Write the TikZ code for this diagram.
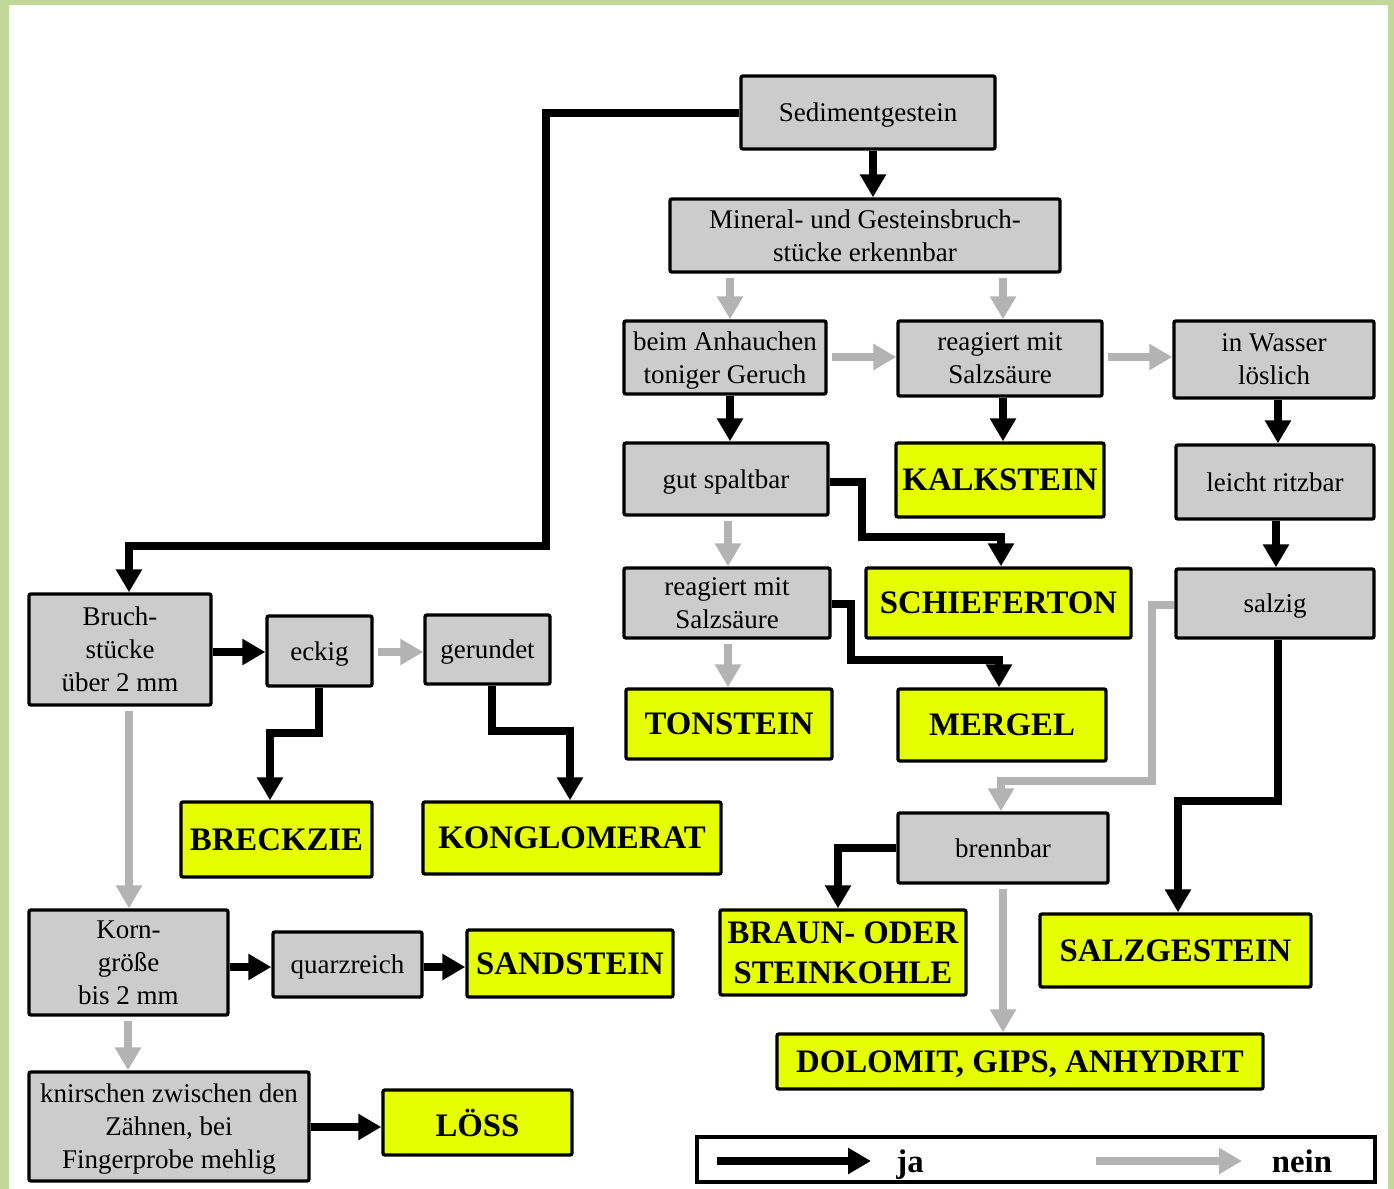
\documentclass[tikz,border=0pt]{standalone}
\usepackage{fontspec}
\setmainfont{Liberation Serif}
\usetikzlibrary{arrows.meta}
\definecolor{framegreen}{RGB}{196,215,155}
\definecolor{boxgray}{RGB}{204,204,204}
\definecolor{rockyellow}{RGB}{230,255,0}
\definecolor{neingray}{RGB}{179,179,179}
\tikzset{
  wh/.style 2 args={minimum width=#1*0.5pt, minimum height=#2*0.5pt},
  q/.style={draw=black, line width=1.7pt, fill=boxgray, rounded corners=1pt,
    inner sep=0pt, align=center, text depth=0pt, font=\fontsize{13.5}{16.5}\selectfont},
  r/.style={q, fill=rockyellow, font=\fontsize{16.4}{20}\selectfont\bfseries},
  ja/.style={draw=black, line width=4pt, line join=miter,
    -{Triangle[width=12.5pt,length=11.5pt]}},
  nein/.style={draw=neingray, line width=4pt, line join=miter,
    -{Triangle[width=12.5pt,length=11.5pt]}, shorten <=2pt},
  legendtext/.style={inner sep=0pt, text depth=0pt, font=\fontsize{16.4}{20}\selectfont\bfseries},
}
\begin{document}
\begin{tikzpicture}[x=0.5pt,y=-0.5pt]
\useasboundingbox (0,0) rectangle (1394,1189);
\fill[framegreen] (0,0) rectangle (1394,1189);
\fill[white] (9,5) rectangle (1388,1189);

% question boxes and rock results
\node[q, wh={254}{73}] (sed) at (868,112.5) {Sedimentgestein};
\node[q, wh={390}{73}] (min) at (865,235.5) {Mineral- und Gesteinsbruch-\\stücke erkennbar};
\node[q, wh={202}{73}] (anh) at (725,357.5) {beim Anhauchen\\toniger Geruch};
\node[q, wh={204}{75}] (rea1) at (1000,358.5) {reagiert mit\\Salzsäure};
\node[q, wh={200}{77}] (was) at (1274,359.5) {in Wasser\\löslich};
\node[q, wh={204}{72}] (spalt) at (726,479) {gut spaltbar};
\node[r, wh={208}{74}] (kalk) at (1000,480) {KALKSTEIN};
\node[q, wh={198}{74}] (ritz) at (1275,482) {leicht ritzbar};
\node[q, wh={206}{70}] (rea2) at (727,603) {reagiert mit\\Salzsäure};
\node[r, wh={265}{70}] (schief) at (998.5,603) {SCHIEFERTON};
\node[q, wh={198}{69}] (salzig) at (1275,603.5) {salzig};
\node[r, wh={206}{70}] (ton) at (729,724) {TONSTEIN};
\node[r, wh={208}{72}] (mergel) at (1002,725) {MERGEL};
\node[q, wh={182}{111}] (bruch) at (120,649.5) {Bruch-\\stücke\\über 2 mm};
\node[q, wh={105}{70}] (eckig) at (319.5,651) {eckig};
\node[q, wh={125}{69}] (gerund) at (487.5,649.5) {gerundet};
\node[r, wh={191}{75}] (breck) at (276.5,839.5) {BRECKZIE};
\node[r, wh={298}{72}] (konglo) at (572,838) {KONGLOMERAT};
\node[q, wh={210}{70}] (brenn) at (1003,848) {brennbar};
\node[r, wh={246}{85}] (kohle) at (843,952.5) {BRAUN- ODER\\STEINKOHLE};
\node[r, wh={271}{73}] (salzg) at (1175.5,950.5) {SALZGESTEIN};
\node[r, wh={486}{55}] (dolo) at (1020,1061.5) {DOLOMIT, GIPS, ANHYDRIT};
\node[q, wh={199}{105}] (korn) at (128.5,962.5) {Korn-\\größe\\bis 2 mm};
\node[q, wh={149}{65}] (quarz) at (347.5,964.5) {quarzreich};
\node[r, wh={206}{67}] (sand) at (570,963.5) {SANDSTEIN};
\node[q, wh={280}{109}] (knir) at (169,1126.5) {knirschen zwischen den\\Zähnen, bei\\Fingerprobe mehlig};
\node[r, wh={189}{65}] (loess) at (477.5,1122.5) {LÖSS};

% "ja" connectors
\draw[ja] (sed.west) -| (546,546) -| (129,0 |- bruch.north);
\draw[ja] (873,0 |- sed.south) -- (873,0 |- min.north);
\draw[ja] (730,0 |- anh.south) -- (730,0 |- spalt.north);
\draw[ja] (1003,0 |- rea1.south) -- (1003,0 |- kalk.north);
\draw[ja] (1278,0 |- was.south) -- (1278,0 |- ritz.north);
\draw[ja] (1276,0 |- ritz.south) -- (1276,0 |- salzig.north);
\draw[ja] (spalt.east |- 0,482) -| (862,537) -| (1001,0 |- schief.north);
\draw[ja] (rea2.east |- 0,604) -| (851,660) -| (999,0 |- mergel.north);
\draw[ja] (1278,0 |- salzig.south) |- (1178,801) -- (1178,0 |- salzg.north);
\draw[ja] (brenn.west) -| (838,0 |- kohle.north);
\draw[ja] (bruch.east |- 0,652) -- (eckig.west |- 0,652);
\draw[ja] (319,0 |- eckig.south) |- (270,733) -- (270,0 |- breck.north);
\draw[ja] (492,0 |- gerund.south) |- (570,731) -- (570,0 |- konglo.north);
\draw[ja] (korn.east |- 0,967) -- (quarz.west |- 0,967);
\draw[ja] (quarz.east |- 0,967) -- (sand.west |- 0,967);
\draw[ja] (knir.east |- 0,1127) -- (loess.west |- 0,1127);

% "nein" connectors
\draw[nein] (730,0 |- min.south) -- (730,0 |- anh.north);
\draw[nein] (1003,0 |- min.south) -- (1003,0 |- rea1.north);
\draw[nein] (anh.east |- 0,357) -- (rea1.west |- 0,357);
\draw[nein] (rea1.east |- 0,357) -- (was.west |- 0,357);
\draw[nein] (728,0 |- spalt.south) -- (728,0 |- rea2.north);
\draw[nein] (728,0 |- rea2.south) -- (728,0 |- ton.north);
\draw[nein, shorten <=0pt] (salzig.west |- 0,605) -| (1152,781) -| (1001,0 |- brenn.north);
\draw[nein] (1003,0 |- brenn.south) -- (1003,0 |- dolo.north);
\draw[nein] (eckig.east |- 0,652) -- (gerund.west |- 0,652);
\draw[nein] (129,0 |- bruch.south) -- (129,0 |- korn.north);
\draw[nein] (128,0 |- korn.south) -- (128,0 |- knir.north);

% legend
\node[draw=black, line width=1.7pt, fill=white, wh={678}{45}] (legend) at (1036,1159.5) {};
\coordinate (jaA) at (717,1161);
\coordinate (jaB) at (871,1161);
\coordinate (neinA) at (1096,1161);
\coordinate (neinB) at (1242,1161);
\draw[ja] (jaA) -- (jaB);
\draw[nein, shorten <=0pt] (neinA) -- (neinB);
\node[legendtext] (jalabel) at (910,1161) {ja};
\node[legendtext] (neinlabel) at (1302,1161) {nein};
\end{tikzpicture}
\end{document}
